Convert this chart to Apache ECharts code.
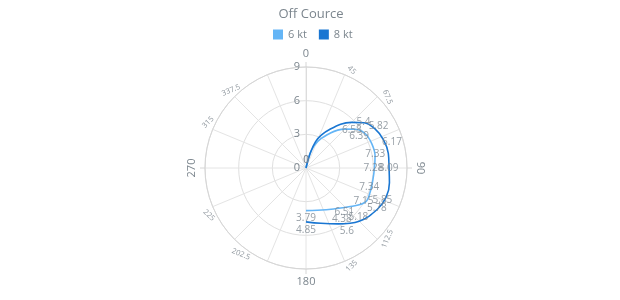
<!DOCTYPE html>
<html><head><meta charset="utf-8">
<script src="https://cdn.jsdelivr.net/npm/echarts@6/dist/echarts.min.js"></script>
<style>html,body{margin:0;padding:0;background:#fff}#c{width:620px;height:300px}</style>
</head><body><div id="c"></div>
<script>
// ---- data ----
const titleText = 'Off Cource';
const seriesNames = ['6 kt', '8 kt'];
const seriesColors = ['#64B5F6', '#1976D2'];

// curve points: wind angle (deg) and boat speed on the radius scale
const angles6 = [0, 20, 35, 45, 52, 60, 70, 80, 90, 100, 110, 120, 131, 146, 165, 180];
const speed6  = [0, 2.1, 3.8, 4.9, 5.6, 6.1, 6.25, 6.25, 6.1, 6.05, 6.1, 6.1, 5.24, 4.4, 3.9, 3.8];
const angles8 = [0, 20, 32, 45, 52, 60, 70, 80, 90, 100, 110, 120, 135, 150, 165, 180];
const speed8  = [0, 2.5, 4.1, 5.75, 6.55, 7.05, 7.35, 7.45, 7.4, 7.55, 7.6, 7.35, 6.7, 5.75, 5.1, 4.8];

// value labels as printed on the chart, and where they sit (angle, radius)
const labelText6   = ['0', '6.58', '6.39', '7.33', '7.28', '7.34', '7.15', '6.51', '4.38', '3.79'];
const labelAngle6  = [0, 50.8, 58.9, 78.8, 90, 107, 119.7, 138.8, 145, 180];
const labelRadius6 = [0.72, 5.27, 5.53, 6.29, 6.01, 5.89, 5.9, 5.19, 5.56, 4.5];
const labelText8   = ['0', '5.4', '5.82', '6.17', '8.09', '5.85', '5.78', '5.18', '5.6', '4.85'];
const labelAngle8  = [0, 51.4, 60.3, 73.5, 90, 112.8, 119.7, 133.3, 147, 180];
const labelRadius8 = [0.72, 6.55, 7.44, 7.99, 7.36, 7.39, 7.27, 6.42, 6.68, 5.54];

// axes
const radiusTicks = [0, 3, 6, 9];
const angleLabelValues = [0, 45, 67.5, 90, 112.5, 135, 180, 202.5, 225, 270, 315, 337.5];
// angle at which each of those labels is printed in the reference
const angleLabelAt = [0, 25, 49, 90, 131, 155, 180, 217, 244, 270, 295, 316];

// ---- chart ----
const FONT = "'Open Sans', 'Noto Sans', sans-serif";
const GREY = '#7c868e';
const rMax = radiusTicks[radiusTicks.length - 1];

function pairs(r, a) { return r.map((v, i) => [v, a[i]]); }

const angleLabelSeries = {
  type: 'custom', coordinateSystem: 'polar', silent: true, clip: false, z: 5,
  data: angleLabelAt.map((a) => [rMax, a]),
  renderItem: function (params, api) {
    const idx = params.dataIndex;
    const v = angleLabelValues[idx];
    const a = angleLabelAt[idx];
    const p = api.coord([rMax, a]);
    const c = api.coord([0, a]);
    let dx = p[0] - c[0], dy = p[1] - c[1];
    const len = Math.sqrt(dx * dx + dy * dy) || 1;
    dx /= len; dy /= len;
    const major = v % 90 === 0;
    const dist = major ? 13 : 7;
    const rot = v <= 90 ? v : (v < 270 ? v - 180 : v - 360);
    const children = [{
      type: 'text',
      x: p[0] + dx * dist, y: p[1] + dy * dist,
      rotation: -rot * Math.PI / 180,
      style: {
        text: String(v), fill: major ? GREY : '#8f979e',
        fontSize: major ? 11 : 7.5, fontFamily: FONT,
        align: 'center', verticalAlign: 'middle'
      }
    }];
    if (major) {
      children.push({
        type: 'line',
        shape: { x1: p[0], y1: p[1], x2: p[0] + dx * 5, y2: p[1] + dy * 5 },
        style: { stroke: '#d6d6d6', lineWidth: 1 }
      });
    }
    return { type: 'group', children: children };
  }
};

function labelSeries(texts, radii, angles) {
  return {
    type: 'scatter', coordinateSystem: 'polar', silent: true, z: 10,
    symbolSize: 1, itemStyle: { color: 'rgba(0,0,0,0)' },
    data: pairs(radii, angles),
    label: {
      show: true, position: 'inside', color: GREY, fontSize: 10, fontFamily: FONT,
      formatter: function (p) { return texts[p.dataIndex]; }
    },
    labelLayout: { hideOverlap: false },
    tooltip: { show: false }
  };
}

const chart = echarts.init(document.getElementById('c'), null, { renderer: 'canvas' });
chart.setOption({
  animation: false,
  backgroundColor: '#fff',
  title: {
    text: titleText, left: 306, top: 3, textAlign: 'center',
    textStyle: { color: GREY, fontSize: 13, fontWeight: 'normal', fontFamily: FONT }
  },
  legend: {
    data: seriesNames, top: 24, left: 268, icon: 'rect', itemWidth: 10, itemHeight: 10, itemGap: 12,
    textStyle: { color: GREY, fontSize: 11, fontFamily: FONT }
  },
  polar: { center: [306, 168], radius: 101 },
  angleAxis: {
    type: 'value', min: 0, max: 360, interval: 22.5, startAngle: 90, clockwise: true,
    axisLine: { show: true, lineStyle: { color: '#d6d6d6', width: 1 } },
    axisTick: { show: false },
    axisLabel: { show: false },
    splitLine: { show: true, lineStyle: { color: '#e4e4e4', width: 1 } }
  },
  radiusAxis: {
    type: 'value', min: 0, max: rMax, interval: 3,
    axisLine: { show: true, lineStyle: { color: '#dcdcdc', width: 1 } },
    axisTick: { show: false },
    axisLabel: { show: true, color: GREY, fontSize: 11, fontFamily: FONT, margin: 6 },
    splitLine: { show: true, lineStyle: { color: '#e0e0e0', width: 1 } }
  },
  series: [
    {
      name: seriesNames[0], type: 'line', coordinateSystem: 'polar', smooth: 0.4,
      data: pairs(speed6, angles6), showSymbol: false, z: 3,
      lineStyle: { color: seriesColors[0], width: 1.6 }, itemStyle: { color: seriesColors[0] }
    },
    {
      name: seriesNames[1], type: 'line', coordinateSystem: 'polar', smooth: 0.4,
      data: pairs(speed8, angles8), showSymbol: false, z: 3,
      lineStyle: { color: seriesColors[1], width: 1.6 }, itemStyle: { color: seriesColors[1] }
    },
    labelSeries(labelText6, labelRadius6, labelAngle6),
    labelSeries(labelText8, labelRadius8, labelAngle8),
    angleLabelSeries
  ]
});
</script></body></html>
